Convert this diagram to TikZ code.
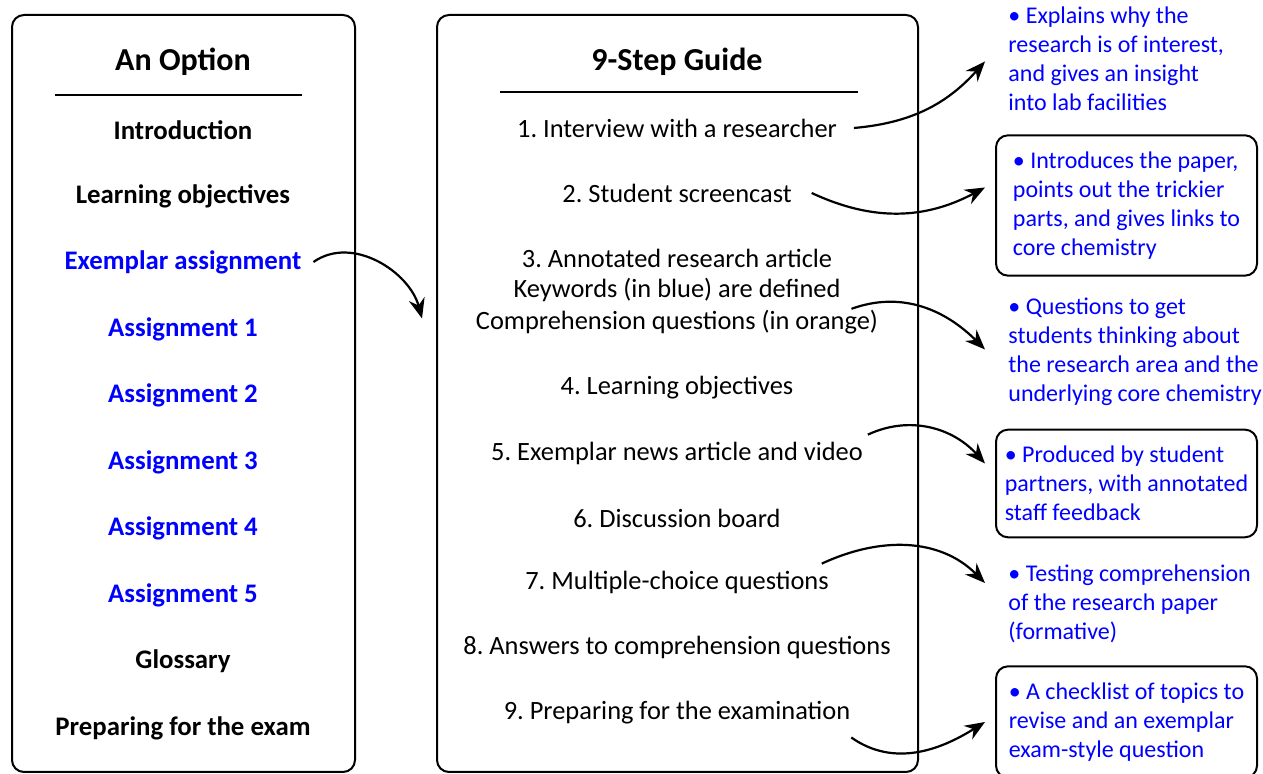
\documentclass[tikz,border=0pt]{standalone}
\usepackage{fontspec}
\setmainfont{Carlito}
\usetikzlibrary{arrows.meta}
\frenchspacing

\begin{document}
\begin{tikzpicture}[x=0.5pt,y=0.5pt,
        panel/.style={draw, line width=1pt, rounded corners=6pt, minimum height=378.5pt},
        head/.style={font=\fontsize{16}{19}\selectfont\bfseries},
        opt/.style={font=\fontsize{13.4}{15}\selectfont\bfseries},
        stepitem/.style={font=\fontsize{13.2}{16}\selectfont},
        note/.style={anchor=west, align=left, text=blue, inner xsep=4pt, inner ysep=6.5pt, font=\fontsize{12}{14.5}\selectfont},
        notebox/.style={note, draw=black, line width=1pt, rounded corners=6pt, inner ysep=8.2pt, minimum width=130.5pt},
        link/.style={-{Stealth[length=10pt,width=8pt]}, line width=1.1pt}]
        \useasboundingbox (0,0) rectangle (1263,774);

        \node[panel, minimum width=171.5pt] (optbox) at (183.5,380.5) {};
        \node[panel, minimum width=240.5pt] (guide) at (677.5,380.5) {};

        \node[head] (opttitle) at (183,712) {An Option};
        \draw[line width=1pt] (55,679) -- (302,679);
        \node[opt] (intro) at (183,644) {Introduction};
        \node[opt] (lobj) at (183,578) {Learning objectives};
        \node[opt, text=blue] (exass) at (183,512) {Exemplar assignment};
        \node[opt, text=blue] (ass1) at (183,445) {Assignment 1};
        \node[opt, text=blue] (ass2) at (183,379) {Assignment 2};
        \node[opt, text=blue] (ass3) at (183,312) {Assignment 3};
        \node[opt, text=blue] (ass4) at (183,246) {Assignment 4};
        \node[opt, text=blue] (ass5) at (183,179) {Assignment 5};
        \node[opt] (gloss) at (183,113) {Glossary};
        \node[opt] (prep) at (183,46) {Preparing for the exam};

        \node[head] (guidetitle) at (677,712) {9-Step Guide};
        \draw[line width=1pt] (500,682) -- (858,682);
        \node[stepitem] (s1) at (677,646) {1. Interview with a researcher};
        \node[stepitem] (s2) at (677,581) {2. Student screencast};
        \node[stepitem] (s3) at (677,516) {3. Annotated research article};
        \node[stepitem] (s3k) at (677,484) {Keywords (in blue) are defined};
        \node[stepitem] (s3c) at (677,452) {Comprehension questions (in orange)};
        \node[stepitem] (s4) at (677,386) {4. Learning objectives};
        \node[stepitem] (s5) at (677,321) {5. Exemplar news article and video};
        \node[stepitem] (s6) at (677,256) {6. Discussion board};
        \node[stepitem] (s7) at (677,192) {7. Multiple-choice questions};
        \node[stepitem] (s8) at (677,127) {8. Answers to comprehension questions};
        \node[stepitem] (s9) at (677,61) {9. Preparing for the examination};

        \node[note] (n1) at (1000,715.5) {• Explains why the\\research is of interest,\\and gives an insight\\into lab facilities};
        \node[notebox] (n2) at (995,568.5) {• Introduces the paper,\\points out the trickier\\parts, and gives links to\\core chemistry};
        \node[note] (n3) at (1000,422.5) {• Questions to get\\students thinking about\\the research area and the\\underlying core chemistry};
        \node[notebox] (n4) at (995,290.5) {• Produced by student\\partners, with annotated\\staff feedback};
        \node[note] (n5) at (1000,170) {• Testing comprehension\\of the research paper\\(formative)};
        \node[notebox] (n6) at (995,52) {• A checklist of topics to\\revise and an exemplar\\exam-style question};

        \draw[link] ([xshift=2.5pt]exass.east) to[out=35,in=105] ([shift={(-7pt,37.5pt)}]guide.west);
        \draw[link] ([xshift=5pt]s1.east) to[out=5,in=228] ([shift={(-7.5pt,-1.5pt)}]n1.west);
        \draw[link] ([xshift=6.5pt]s2.east) to[out=-25,in=208] ([shift={(-5pt,9pt)}]n2.west);
        \draw[link] ([xshift=2pt]s3k.south east) to[out=20,in=135] ([shift={(-7.5pt,1pt)}]n3.west);
        \draw[link] ([xshift=-1pt]s5.north east) to[out=25,in=132] ([shift={(-5pt,10pt)}]n4.west);
        \draw[link] ([xshift=-7pt]s7.north east) to[out=25,in=135] ([shift={(-7.5pt,10.5pt)}]n5.west);
        \draw[link] ([shift={(-3pt,-3pt)}]s9.south east) to[out=-35,in=212] ([shift={(-5pt,0pt)}]n6.west);

    \end{tikzpicture}
\end{document}
